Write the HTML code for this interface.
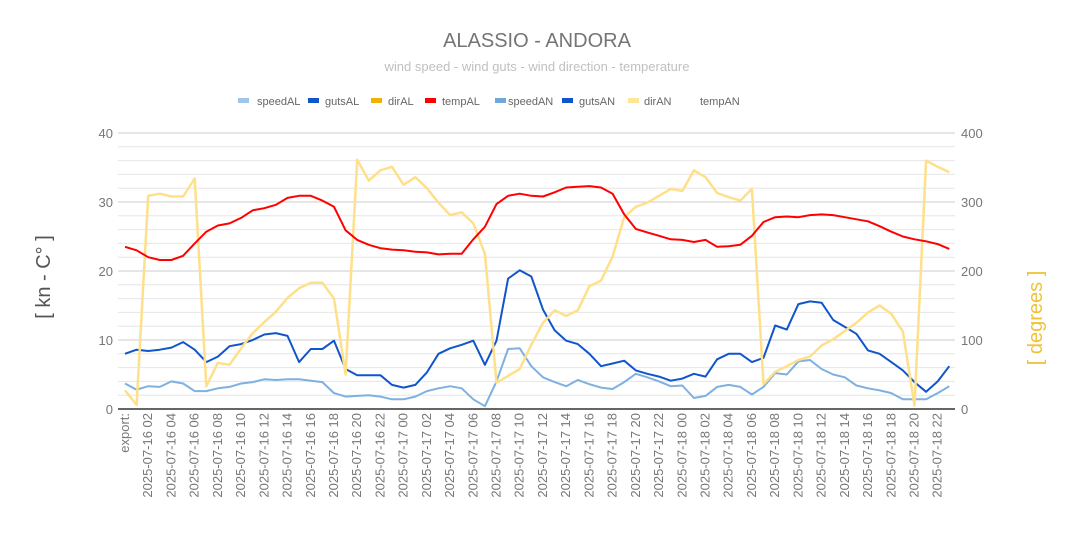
<!DOCTYPE html>
<html><head><meta charset="utf-8"><style>
body{margin:0;background:#fff}
svg text{font-family:"Liberation Sans",sans-serif}
</style></head><body>
<svg id="chart" width="1074" height="539" viewBox="0 0 1074 539">
<text x="537" y="47" text-anchor="middle" font-size="20" fill="#757575">ALASSIO - ANDORA</text>
<text x="537" y="71" text-anchor="middle" font-size="13" fill="#c0c0c0">wind speed - wind guts - wind direction - temperature</text>
<g id="legend" font-size="11" fill="#666"></g>
<g id="grid"></g>
<g id="series"></g>
<g id="xlabels" font-size="13" fill="#777"></g>
<text transform="translate(50,277) rotate(-90)" text-anchor="middle" font-size="20" fill="#555">[ kn - C° ]</text>
<text transform="translate(1042,318) rotate(-90)" text-anchor="middle" font-size="20" fill="#f1c232">[ degrees ]</text>
</svg>
<script>
const categories = ["export:"];
for (const d of ["16","17","18"]) for (let h=0; h<24; h++) { if (d==="16"&&h===0) continue; categories.push("2025-07-"+d+" "+String(h).padStart(2,"0")); }
const speed = [3.7,2.8,3.3,3.2,4.0,3.7,2.6,2.6,3.0,3.2,3.7,3.9,4.3,4.2,4.3,4.3,4.1,3.9,2.3,1.8,1.9,2.0,1.8,1.4,1.4,1.8,2.6,3.0,3.3,3.0,1.4,0.4,4.0,8.7,8.8,6.2,4.6,3.9,3.3,4.2,3.6,3.1,2.9,3.9,5.1,4.6,4.0,3.3,3.4,1.6,1.9,3.2,3.5,3.2,2.1,3.2,5.2,5.0,6.9,7.1,5.8,5.0,4.6,3.4,3.0,2.7,2.3,1.4,1.4,1.4,2.3,3.3];
const guts = [8.0,8.6,8.4,8.6,8.9,9.7,8.6,6.8,7.6,9.1,9.4,10.0,10.8,11.0,10.6,6.8,8.7,8.7,9.9,5.8,4.9,4.9,4.9,3.5,3.1,3.5,5.3,8.0,8.8,9.3,9.9,6.4,9.9,18.9,20.1,19.2,14.4,11.4,9.9,9.4,8.0,6.2,6.6,7.0,5.6,5.1,4.7,4.1,4.4,5.1,4.7,7.2,8.0,8.0,6.8,7.4,12.1,11.5,15.2,15.6,15.4,12.9,11.9,10.9,8.5,8.0,6.8,5.6,3.9,2.5,4.0,6.2];
const temp = [23.5,23.0,22.0,21.6,21.6,22.2,24.0,25.7,26.6,26.9,27.7,28.8,29.1,29.6,30.6,30.9,30.9,30.2,29.3,25.9,24.5,23.8,23.3,23.1,23.0,22.8,22.7,22.4,22.5,22.5,24.6,26.4,29.7,30.9,31.2,30.9,30.8,31.4,32.1,32.2,32.3,32.1,31.2,28.2,26.1,25.6,25.1,24.6,24.5,24.2,24.5,23.5,23.6,23.8,25.1,27.1,27.8,27.9,27.8,28.1,28.2,28.1,27.8,27.5,27.2,26.5,25.7,25.0,24.6,24.3,23.9,23.2];
const dir = [27,6,309,312,308,308,334,33,67,64,88,110,126,141,161,175,183,183,160,50,361,331,346,351,325,336,320,299,281,285,269,225,38,48,58,93,125,143,135,143,178,186,221,278,293,299,309,319,316,346,336,313,307,302,319,36,54,62,71,76,92,101,113,125,140,150,138,112,5,360,351,343];
const leftTicks = ["0","10","20","30","40"];
const rightTicks = ["0","100","200","300","400"];
const legendNames = ["speedAL","gutsAL","dirAL","tempAL","speedAN","gutsAN","dirAN","tempAN"];
const legendColors = ["#9fc5e8","#1155cc","#f1b300","#ff0000","#6fa8dc","#1155cc","#ffe599","none"];

const NS="http://www.w3.org/2000/svg";
const X0=125, DX=11.61, Y0=409, YT=133;
const xs = i => X0 + i*DX;
const yL = v => Y0 - v/40*(Y0-YT);
const yR = v => Y0 - v/400*(Y0-YT);
function mk(tag, attrs, parent){const e=document.createElementNS(NS,tag);for(const k in attrs)e.setAttribute(k,attrs[k]);parent.appendChild(e);return e;}

const grid=document.getElementById("grid");
for (let k=1;k<20;k++){ if(k%5===0) continue;
  const ln=mk("line",{x1:118,x2:955,y1:yL(k*2),y2:yL(k*2),stroke:"#e6e6e6","stroke-width":1},grid);
  
  
}
leftTicks.forEach((t,i)=>{
  const v=+t;
  const ln=mk("line",{x1:118,x2:955,y1:yL(v),y2:yL(v),stroke:i===0?"#333":"#ccc","stroke-width":i===0?1.5:1},grid);
  
  
  const tl=mk("text",{x:113,y:yL(v)+5,"text-anchor":"end","font-size":13,fill:"#777"},grid);
  tl.textContent=t;
  
  
});
rightTicks.forEach(t=>{
  const tr=mk("text",{x:961,y:yR(+t)+5,"font-size":13,fill:"#777"},grid);
  tr.textContent=t;
  
  
});

const xl=document.getElementById("xlabels");
categories.forEach((c,i)=>{ if(i%2) return;
  const t=mk("text",{transform:`translate(${xs(i)+4},413) rotate(-90)`,"text-anchor":"end"},xl);
  t.textContent=c;
  
  
});

const ser=document.getElementById("series");
function line(vals, fy, color, name, w){
  const d=vals.map((v,i)=>(i?"L":"M")+xs(i).toFixed(1)+","+fy(v).toFixed(1)).join(" ");
  const p=mk("path",{d:d,fill:"none",stroke:color,"stroke-width":w||2,"stroke-linejoin":"round"},ser);
  
  
}
line(speed,yL,"#7eb0e0","speed-line");
line(guts,yL,"#1155cc","guts-line");
line(dir,yR,"#ffe08a","direction-line",2.5);
line(temp,yL,"#ff0000","temperature-line");

const lg=document.getElementById("legend");
const swX=[238,308,371,425,495,562,628,680], txX=[257,325,388,442,508,579,644,700];
legendNames.forEach((n,i)=>{
  const g=mk("g",{},lg);
  
  
  if(legendColors[i]!=="none") mk("rect",{x:swX[i],y:98,width:11,height:5,fill:legendColors[i]},g);
  const t=mk("text",{x:txX[i],y:105},g); t.textContent=n;
});
</script>
</body></html>
